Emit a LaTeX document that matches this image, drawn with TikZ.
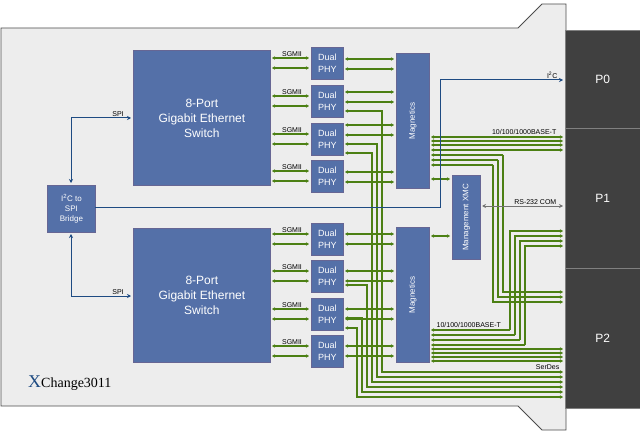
\documentclass[tikz,border=0pt]{standalone}
\usepackage{fontspec}
\setmainfont{Liberation Serif}
\setsansfont{Liberation Sans}
\begin{document}
\begin{tikzpicture}[x=1pt,y=-1pt,
  blk/.style={draw=blue!30!black!60!white, line width=0.8pt, fill=boxblue, text=white, font=\sffamily, align=center, inner sep=0pt},
  g/.style={draw=grn, line width=1.2pt},
  ga/.style={g, <->, >={Stealth[length=3pt,width=3.5pt]}},
  gr/.style={g, ->, >={Stealth[length=3pt,width=3.5pt]}},
  lbl/.style={font=\sffamily\fontsize{7}{7}\selectfont, inner sep=0.5pt},
  bl/.style={draw=busblue, line width=1pt, >={Stealth[length=4pt,width=4pt]}}]
\definecolor{boxblue}{RGB}{84,112,168}
\definecolor{grn}{RGB}{76,128,20}
\definecolor{busblue}{RGB}{30,75,130}
\useasboundingbox (0,0) rectangle (640,433);
\usetikzlibrary{arrows.meta}
% board
\draw[fill=black!7, draw=black!70, line width=0.8pt] (1,28) -- (518,28) -- (542,4) -- (566,4) -- (566,430) -- (542,430) -- (518,406) -- (1,406) -- cycle;
% connectors
\foreach \n/\a/\b in {P0/30/128,P1/128/268,P2/268/408}{
  \node[draw=black!50, fill=black!75, minimum width=75pt, minimum height=\b-\a, anchor=north west, inner sep=0pt, text=white, font=\sffamily\fontsize{12}{12}\selectfont] (\n) at (565,\a) {\n};
}
% switches
\node[blk, minimum width=137pt, minimum height=135pt, anchor=north west, font=\sffamily\fontsize{12}{15}\selectfont] (sw1) at (133,50) {8-Port\\Gigabit Ethernet\\Switch};
\node[blk, minimum width=137pt, minimum height=134pt, anchor=north west, font=\sffamily\fontsize{12}{15}\selectfont] (sw2) at (133,228) {8-Port\\Gigabit Ethernet\\Switch};
\node[blk, minimum width=48pt, minimum height=47pt, anchor=north west, font=\sffamily\fontsize{8}{10}\selectfont] (br) at (47,185) {I\textsuperscript{2}C to\\SPI\\Bridge};
% PHYs
\foreach \i/\y in {1/47,2/85,3/123,4/160,5/223,6/260,7/298,8/335}{
  \node[blk, minimum width=32pt, minimum height=32pt, anchor=north west, font=\sffamily\fontsize{9}{12}\selectfont, align=center] (phy\i) at (311,\y) {Dual\\PHY};
  \draw[ga] (272,\y+11) -- (309,\y+11);
  \draw[ga] (272,\y+21) -- (309,\y+21);
  \node[lbl, anchor=south] (sg\i) at (292,\y+10) {SGMII};
}
% magnetics
\node[blk, minimum width=33pt, minimum height=135pt, anchor=north west] (mag1) at (396,53) {};
\node[font=\sffamily\fontsize{8}{8}\selectfont, text=white, rotate=90] (mt1) at (mag1.center) {Magnetics};
\node[blk, minimum width=33pt, minimum height=135pt, anchor=north west] (mag2) at (396,227) {};
\node[font=\sffamily\fontsize{8}{8}\selectfont, text=white, rotate=90] (mt2) at (mag2.center) {Magnetics};
\node[blk, minimum width=28pt, minimum height=84pt, anchor=north west] (xmc) at (452,175) {};
\node[font=\sffamily\fontsize{8}{8}\selectfont, text=white, rotate=90] (xt) at (xmc.center) {Management XMC};
% PHY to magnetics
\foreach \y in {59,69,92,102,125,135,172,182,234,244,271,281,309,319,346,356}{
  \draw[ga] (345,\y) -- (394,\y);
}
% PHY to SerDes
\foreach \y/\x/\t in {111/382/372,144/377/377,153/372/382,285/367/387,318/362/392,328/357/397}{
  \draw[gr] (\x,\t) -- (\x,\y) -- (345,\y);
  \draw[gr] (\x,\y) -- (\x,\t) -- (563,\t);
}
\node[lbl, anchor=south east] (sd) at (560,370) {SerDes};
% magnetics top to P1
\foreach \y in {137,141,145,150}{ \draw[ga] (431,\y) -- (563,\y); }
\foreach \y/\x/\t in {155/503/292,160/498/297,165/493/302}{
  \draw[gr] (\x,\y) -- (431,\y);
  \draw[gr] (\x,\y) -- (\x,\t) -- (563,\t);
}
\node[lbl, anchor=south east] (bt1) at (557,135) {10/100/1000BASE-T};
% magnetics bottom
\foreach \y/\x/\t in {330/510/231,335/515/236,340/520/241,345/525/246}{
  \draw[gr] (\x,\y) -- (431,\y);
  \draw[gr] (\x,\y) -- (\x,\t) -- (563,\t);
}
\foreach \y in {349,353,357,361}{ \draw[ga] (431,\y) -- (563,\y); }
\node[lbl, anchor=south west] (bt2) at (436,328) {10/100/1000BASE-T};
% magnetics to XMC
\draw[ga] (431,179) -- (450,179);
\draw[ga] (431,236) -- (450,236);
% buses
\draw[bl,->] (95,207) -- (440,207) -- (440,80) -- (563,80);
\node[lbl, anchor=south east] (i2c) at (558,79) {I\textsuperscript{2}C};
\draw[draw=black!55, line width=1pt, <->, >={Stealth[length=4pt,width=4pt]}] (482,206) -- (563,206);
\node[lbl, anchor=south east] (rs) at (557,205) {RS-232 COM};
\draw[bl,<->] (71,183) -- (71,118) -- (131,118);
\node[lbl, anchor=south] (spi1) at (118,117) {SPI};
\draw[bl,<->] (71,234) -- (71,296) -- (131,296);
\node[lbl, anchor=south] (spi2) at (118,295) {SPI};
% title
\node[anchor=west, inner sep=0pt] (ttl) at (28,383) {\textcolor{busblue}{\fontsize{18}{18}\selectfont X}\fontsize{14}{14}\selectfont Change3011};
\end{tikzpicture}
\end{document}
